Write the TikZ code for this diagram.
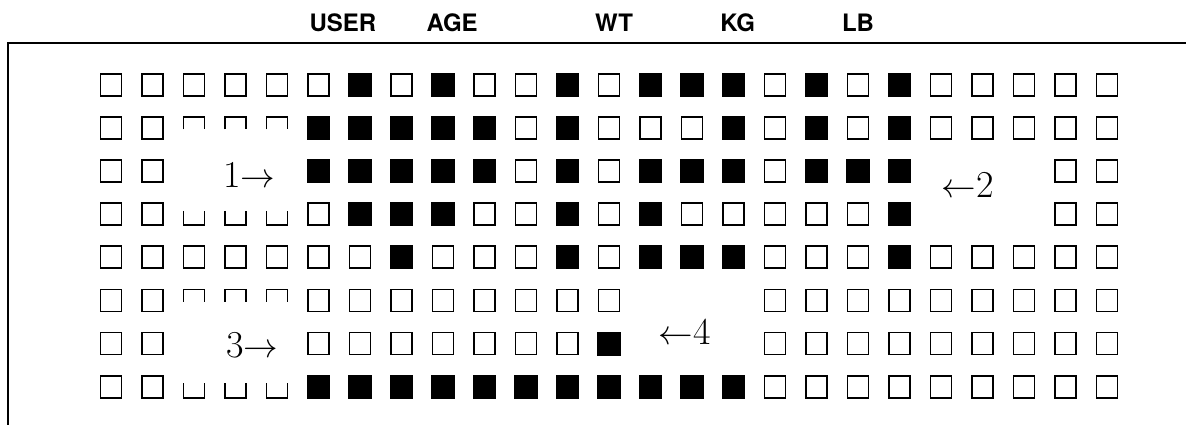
\documentclass[tikz,border=0pt]{standalone}
\usepackage{fontspec}
\setsansfont{TeX Gyre Heros}
\tikzset{
 box/.style={draw=black,line width=0.9pt},
 head/.style={font=\sffamily\bfseries\fontsize{12}{14}\selectfont,anchor=base,inner sep=0pt},
 tag/.style={font=\fontsize{19}{22}\selectfont,anchor=base,inner sep=0pt}
}

\begin{document}
\begin{tikzpicture}[x=20.75pt,y=21.55pt,line join=miter]
\useasboundingbox (-2.675,-7.889) rectangle (25.904,1.972);
% frame: rule under the heads and the left side
\draw[line width=1pt] (25.904,0.974) -- (-2.482,0.974) -- (-2.482,-7.889);
% column heads
\node[head] (user) at (5.59,1.23) {USER};
\node[head] (age) at (8.22,1.23) {AGE};
\node[head] (wt) at (12.12,1.23) {WT};
\node[head] (kg) at (15.10,1.23) {KG};
\node[head] (lb) at (18.0,1.23) {LB};
% the cells, row by row: o open, x filled, n top half, u bottom half, . none
\foreach \r/\cells in {
 0/{o,o,o,o,o,o,x,o,x,o,o,x,o,x,x,x,o,x,o,x,o,o,o,o,o},
 1/{o,o,n,n,n,x,x,x,x,x,o,x,o,o,o,x,o,x,o,x,o,o,o,o,o},
 2/{o,o,.,.,.,x,x,x,x,x,o,x,o,x,x,x,o,x,x,x,.,.,.,o,o},
 3/{o,o,u,u,u,o,x,x,x,o,o,x,o,x,o,o,o,o,o,x,.,.,.,o,o},
 4/{o,o,o,o,o,o,o,x,o,o,o,x,o,x,x,x,o,o,o,x,o,o,o,o,o},
 5/{o,o,n,n,n,o,o,o,o,o,o,o,o,.,.,.,o,o,o,o,o,o,o,o,o},
 6/{o,o,.,.,.,o,o,o,o,o,o,o,x,.,.,.,o,o,o,o,o,o,o,o,o},
 7/{o,o,u,u,u,x,x,x,x,x,x,x,x,x,x,x,o,o,o,o,o,o,o,o,o}}
 \foreach \t [count=\c from 0] in \cells {
  \if o\t \draw[box] (\c-0.255,-\r-0.255) rectangle (\c+0.255,-\r+0.255); \fi
  \if x\t \fill (\c-0.278,-\r-0.278) rectangle (\c+0.278,-\r+0.278); \fi
  \if n\t \draw[box] (\c-0.255,-\r-0.03) -- (\c-0.255,-\r+0.255) -- (\c+0.255,-\r+0.255) -- (\c+0.255,-\r-0.03); \fi
  \if u\t \draw[box] (\c-0.255,-\r+0.08) -- (\c-0.255,-\r-0.255) -- (\c+0.255,-\r-0.255) -- (\c+0.255,-\r+0.08); \fi
 }
% the four marks
\node[tag] (one) at (3.33,-2.367) {1$\rightarrow$};
\node[tag] (two) at (20.65,-2.6) {$\leftarrow$2};
\node[tag] (three) at (3.40,-6.33) {3$\rightarrow$};
\node[tag] (four) at (13.83,-6.03) {$\leftarrow$4};
\end{tikzpicture}
\end{document}
